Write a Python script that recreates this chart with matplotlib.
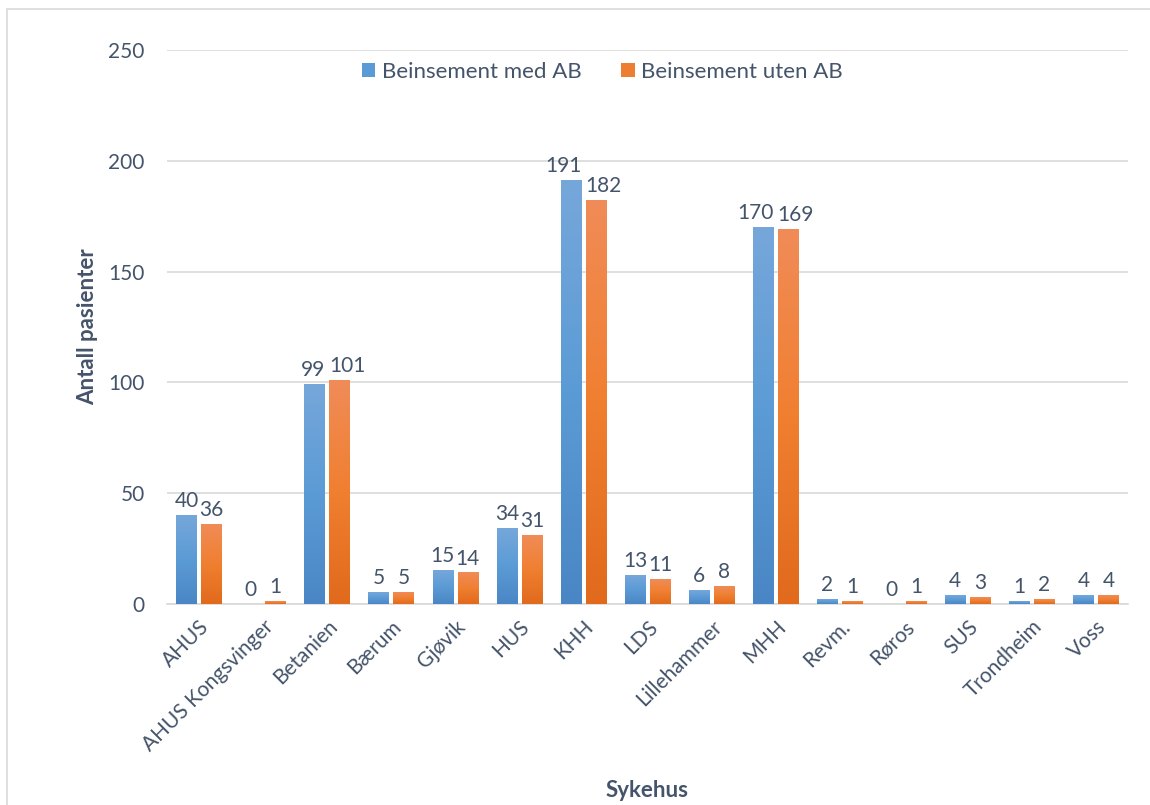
import matplotlib
matplotlib.use("Agg")
import matplotlib.pyplot as plt
import numpy as np
from matplotlib.colors import LinearSegmentedColormap
from matplotlib.patches import Rectangle, Patch

categories = ["AHUS", "AHUS Kongsvinger", "Betanien", "Bærum", "Gjøvik", "HUS", "KHH",
              "LDS", "Lillehammer", "MHH", "Revm.", "Røros", "SUS", "Trondheim", "Voss"]
med_ab = [40, 0, 99, 5, 15, 34, 191, 13, 6, 170, 2, 0, 4, 1, 4]
uten_ab = [36, 1, 101, 5, 14, 31, 182, 11, 8, 169, 1, 1, 3, 2, 4]
series_names = ["Beinsement med AB", "Beinsement uten AB"]
yticks = [0, 50, 100, 150, 200, 250]

plt.rcParams['font.family'] = ['Lato', 'DejaVu Sans']
txt = '#44546A'
grid = '#D9D9D9'

fig = plt.figure(figsize=(11.5, 8.05), dpi=100)
ax = fig.add_axes([167/1150, 1-604/805, (1128-167)/1150, (604-50)/805])

# outer chart border
fig.patches.append(Rectangle((7/1150, -0.05), 1.2, 1-9/805+0.05, transform=fig.transFigure,
                             fill=False, edgecolor=grid, linewidth=1.2, zorder=0))

x = np.arange(len(categories))
w = 0.32
off = 0.195
cmaps = [LinearSegmentedColormap.from_list('b', ['#4A86C5', '#5B9BD5', '#76A7DB']),
         LinearSegmentedColormap.from_list('o', ['#E16A1C', '#F07F30', '#F08C58'])]
base_colors = ['#5B9BD5', '#ED7D31']

grad = np.linspace(0, 1, 256).reshape(-1, 1)
for i, (vals, cm) in enumerate(zip([med_ab, uten_ab], cmaps)):
    pos = x + (-off if i == 0 else off)
    bars = ax.bar(pos, vals, width=w, color='none', edgecolor='none', zorder=3)
    for j, (b, v) in enumerate(zip(bars, vals)):
        x0, y0 = b.get_x(), b.get_y()
        bw, bh = b.get_width(), b.get_height()
        if bh > 0:
            ax.imshow(grad, extent=(x0, x0 + bw, y0, y0 + bh), origin='lower',
                      cmap=cm, aspect='auto', zorder=3, interpolation='bilinear')
        wide = max(len(str(med_ab[j])), len(str(uten_ab[j]))) >= 3
        if wide:
            if i == 0:
                lx, ha = x[j] - 0.03, 'right'
            else:
                lx, ha = x[j] + 0.03, 'left'
        else:
            lx, ha = x0 + bw / 2, 'center'
        ax.text(lx, bh + 2, f"{v}", ha=ha, va='bottom',
                fontsize=15, color=txt, zorder=4)

ax.set_xlim(-0.5, len(categories) - 0.5)
ax.set_ylim(0, 250)
ax.set_yticks(yticks)
ax.set_yticklabels([str(t) for t in yticks])
ax.set_xticks(x)
ax.set_xticklabels(categories, rotation=45, ha='right', rotation_mode='anchor')
ax.tick_params(axis='both', length=0, labelsize=15, labelcolor=txt)
ax.tick_params(axis='y', pad=16)
ax.tick_params(axis='x', pad=9)
ax.grid(axis='y', color=grid, linewidth=1.2, zorder=0)
ax.set_axisbelow(True)
for s in ['top', 'right', 'left']:
    ax.spines[s].set_visible(False)
ax.spines['bottom'].set_color(grid)
ax.spines['bottom'].set_linewidth(1.2)

fig.text(88/1150, 1-327/805, "Antall pasienter", rotation=90, ha='center', va='center',
         fontsize=16, fontweight='bold', color=txt)
fig.text((167+1128)/2/1150, 1-790/805, "Sykehus", ha='center', va='center',
         fontsize=16, fontweight='bold', color=txt)

handles = [Patch(facecolor=c, edgecolor='none') for c in base_colors]
leg = ax.legend(handles, series_names, loc='center', bbox_to_anchor=(0.453, 0.96), ncol=2,
                frameon=False, fontsize=16, handlelength=0.6, handleheight=0.6,
                handletextpad=0.3, columnspacing=1.8)
for t in leg.get_texts():
    t.set_color(txt)

fig.savefig("out.png", dpi=100)
